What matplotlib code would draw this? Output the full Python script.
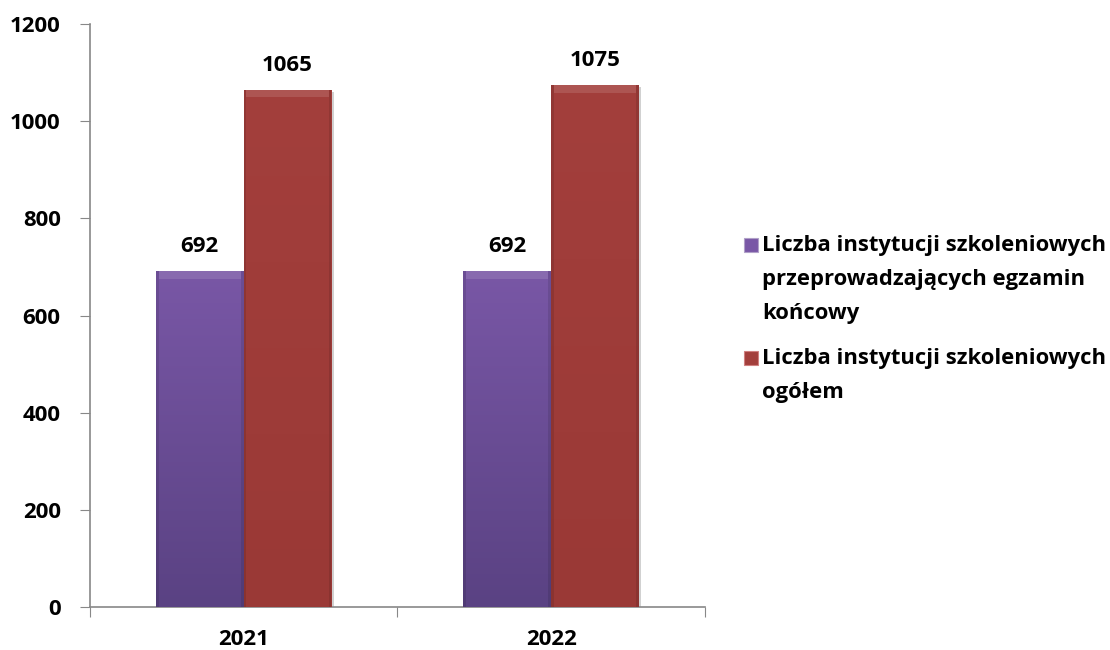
import numpy as np
import matplotlib.pyplot as plt
from matplotlib.colors import LinearSegmentedColormap
from matplotlib.patches import Rectangle

plt.rcParams["font.family"] = ["Open Sans", "DejaVu Sans"]
plt.rcParams["font.weight"] = "bold"

years = ["2021", "2022"]
series_labels = [
    "Liczba instytucji szkoleniowych\nprzeprowadzających egzamin\nkońcowy",
    "Liczba instytucji szkoleniowych\nogółem",
]
egzamin = [692, 692]
ogolem = [1065, 1075]

# top colour, bottom colour for each series
shades = [("#7957A6", "#5A4283"), ("#A33F3C", "#9A3936")]

fig = plt.figure(figsize=(11.1, 6.5), dpi=100)
ax = fig.add_axes([0.081, 0.066, 0.554, 0.897])

x = np.arange(len(years))
width = 0.285


def gradient_bars(ax, xs, values, top, bottom):
    bars = ax.bar(xs, values, width, color=bottom, edgecolor="none", zorder=2)
    cmap = LinearSegmentedColormap.from_list("g", [bottom, top])
    grad = np.linspace(0, 1, 256).reshape(-1, 1)
    for b in bars:
        x0, y0 = b.get_x(), b.get_y()
        w, h = b.get_width(), b.get_height()
        im = ax.imshow(grad, cmap=cmap, aspect="auto", origin="lower",
                       extent=[x0, x0 + w, y0, y0 + h], zorder=3)
        im.set_clip_path(b)
        # light bevel along the top edge
        ax.fill_between([x0 + w * 0.03, x0 + w * 0.97], y0 + h - 16, y0 + h,
                        color="white", alpha=0.12, lw=0, zorder=4)
        # darker side edges
        ax.fill_between([x0, x0 + w * 0.03], 0, y0 + h,
                        color="black", alpha=0.10, lw=0, zorder=4)
        ax.fill_between([x0 + w * 0.97, x0 + w], 0, y0 + h,
                        color="black", alpha=0.10, lw=0, zorder=4)
        # soft shadow on the right side
        ax.fill_between([x0 + w, x0 + w + 0.008], 0, y0 + h - 5,
                        color="#999999", alpha=0.45, lw=0, zorder=1)
        ax.annotate(f"{int(h)}", (x0 + w / 2, h), xytext=(0, 10),
                    textcoords="offset points", ha="center", va="bottom",
                    fontsize=16, fontweight="bold")
    return bars


gradient_bars(ax, x - width / 2, egzamin, shades[0][0], shades[0][1])
gradient_bars(ax, x + width / 2, ogolem, shades[1][0], shades[1][1])

ax.set_xlim(-0.5, 1.5)
ax.set_ylim(0, 1200)
ax.set_yticks(range(0, 1201, 200))
ax.set_xticks([-0.5, 0.5, 1.5])
ax.set_xticklabels([])
ax.set_xticks(x, minor=True)
ax.set_xticklabels(years, minor=True)
ax.tick_params(axis="x", which="minor", length=0, pad=16, labelsize=16)
ax.tick_params(axis="x", which="major", length=7, color="#888888", direction="out")
ax.tick_params(axis="y", length=7, color="#888888", labelsize=16, pad=14)
for lab in ax.get_yticklabels() + ax.get_xticklabels(minor=True):
    lab.set_fontweight("bold")

for s in ["top", "right"]:
    ax.spines[s].set_visible(False)
for s in ["left", "bottom"]:
    ax.spines[s].set_color("#888888")
    ax.spines[s].set_linewidth(1.2)

# legend drawn by hand so the marker sits on the first line of each entry
W, H = 1110, 650
legend_tops = [235, 348]
edges = ["#b0a0c8", "#d08080"]
for (top, bottom), edge, label, ty in zip(shades, edges, series_labels, legend_tops):
    fig.patches.append(Rectangle((744 / W, 1 - (ty + 17) / H), 14 / W, 14 / H,
                                 transform=fig.transFigure, facecolor=top,
                                 edgecolor=edge, lw=0.8))
    fig.text(762 / W, 1 - ty / H, label, ha="left", va="top", fontsize=15.8,
             fontweight="bold", linespacing=1.8)

fig.savefig("out.png", dpi=100)
